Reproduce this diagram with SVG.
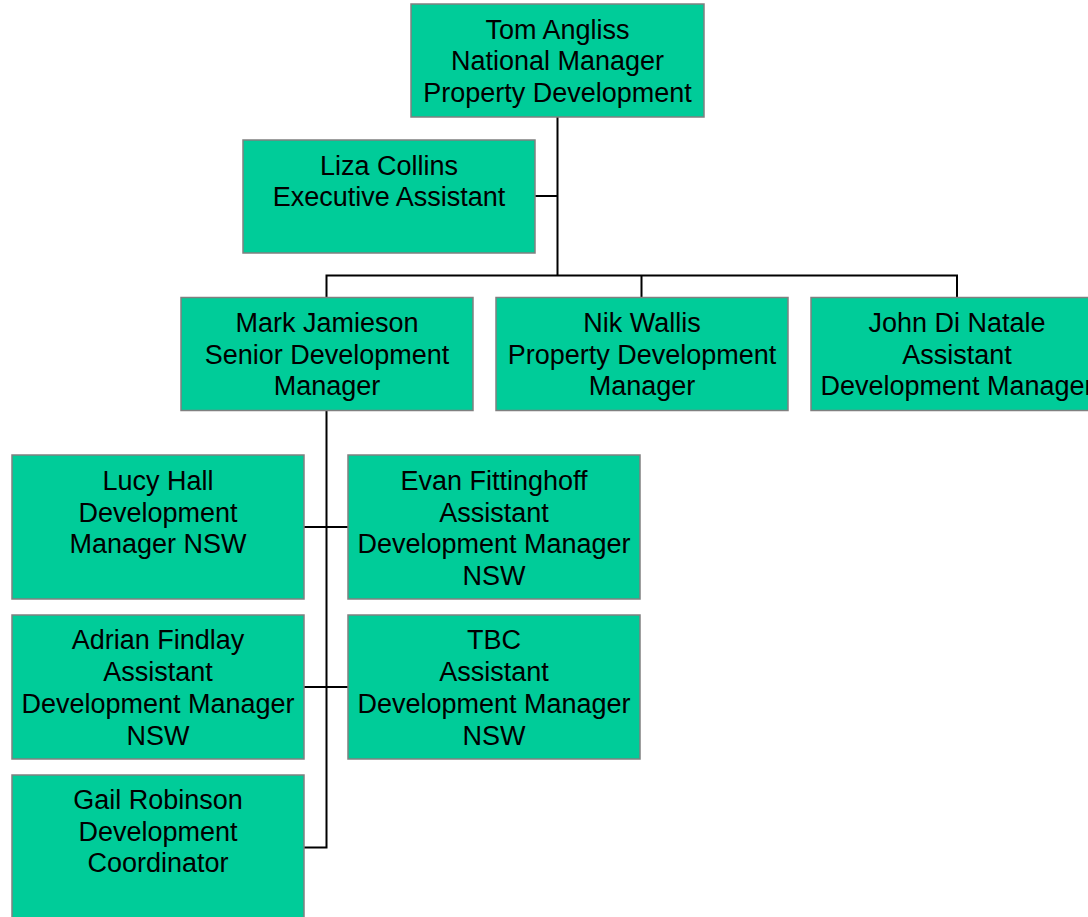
<svg xmlns="http://www.w3.org/2000/svg" width="1088" height="917" viewBox="0 0 1088 917">
<style>
.box{fill:#00CC99;stroke:#808080;stroke-width:1.5}
.t{font-family:"Liberation Sans",Arial,sans-serif;font-size:27px;fill:#000;text-anchor:middle}
.c{stroke:#000;stroke-width:2;fill:none}
</style>
<rect width="1088" height="917" fill="#fff"/>
<g id="connectors">
<path class="c" d="M557.5 117V275.5M535 196H557.5"/>
<path class="c" d="M326.5 297V275.5H957V297M641.5 275.5V297"/>
<path class="c" d="M326.5 410V847.5H304M304 527H348M304 687H348"/>
</g>
<g id="tom"><rect class="box" x="411" y="4" width="293" height="113"/>
<text class="t" x="557.5" y="39">Tom Angliss</text><text class="t" x="557.5" y="70">National Manager</text><text class="t" x="557.5" y="101.5">Property Development</text></g>
<g id="liza"><rect class="box" x="243" y="140" width="292" height="113"/>
<text class="t" x="389" y="175">Liza Collins</text><text class="t" x="389" y="206">Executive Assistant</text></g>
<g id="mark"><rect class="box" x="181" y="297.5" width="292" height="113"/>
<text class="t" x="327" y="332">Mark Jamieson</text><text class="t" x="327" y="363.5">Senior Development</text><text class="t" x="327" y="395">Manager</text></g>
<g id="nik"><rect class="box" x="496" y="297.5" width="292" height="113"/>
<text class="t" x="642" y="332">Nik Wallis</text><text class="t" x="642" y="363.5">Property Development</text><text class="t" x="642" y="395">Manager</text></g>
<g id="john"><rect class="box" x="811" y="297.5" width="292" height="113"/>
<text class="t" x="957" y="332">John Di Natale</text><text class="t" x="957" y="363.5">Assistant</text><text class="t" x="957" y="395">Development Manager</text></g>
<g id="lucy"><rect class="box" x="12" y="455" width="292" height="144"/>
<text class="t" x="158" y="490">Lucy Hall</text><text class="t" x="158" y="521.5">Development</text><text class="t" x="158" y="553">Manager NSW</text></g>
<g id="evan"><rect class="box" x="348" y="455" width="292" height="144"/>
<text class="t" x="494" y="490">Evan Fittinghoff</text><text class="t" x="494" y="521.5">Assistant</text><text class="t" x="494" y="553">Development Manager</text><text class="t" x="494" y="585">NSW</text></g>
<g id="adrian"><rect class="box" x="12" y="615" width="292" height="144"/>
<text class="t" x="158" y="649">Adrian Findlay</text><text class="t" x="158" y="681">Assistant</text><text class="t" x="158" y="713">Development Manager</text><text class="t" x="158" y="745">NSW</text></g>
<g id="tbc"><rect class="box" x="348" y="615" width="292" height="144"/>
<text class="t" x="494" y="649">TBC</text><text class="t" x="494" y="681">Assistant</text><text class="t" x="494" y="713">Development Manager</text><text class="t" x="494" y="745">NSW</text></g>
<g id="gail"><rect class="box" x="12" y="775" width="292" height="145"/>
<text class="t" x="158" y="809">Gail Robinson</text><text class="t" x="158" y="841">Development</text><text class="t" x="158" y="872">Coordinator</text></g>
</svg>
